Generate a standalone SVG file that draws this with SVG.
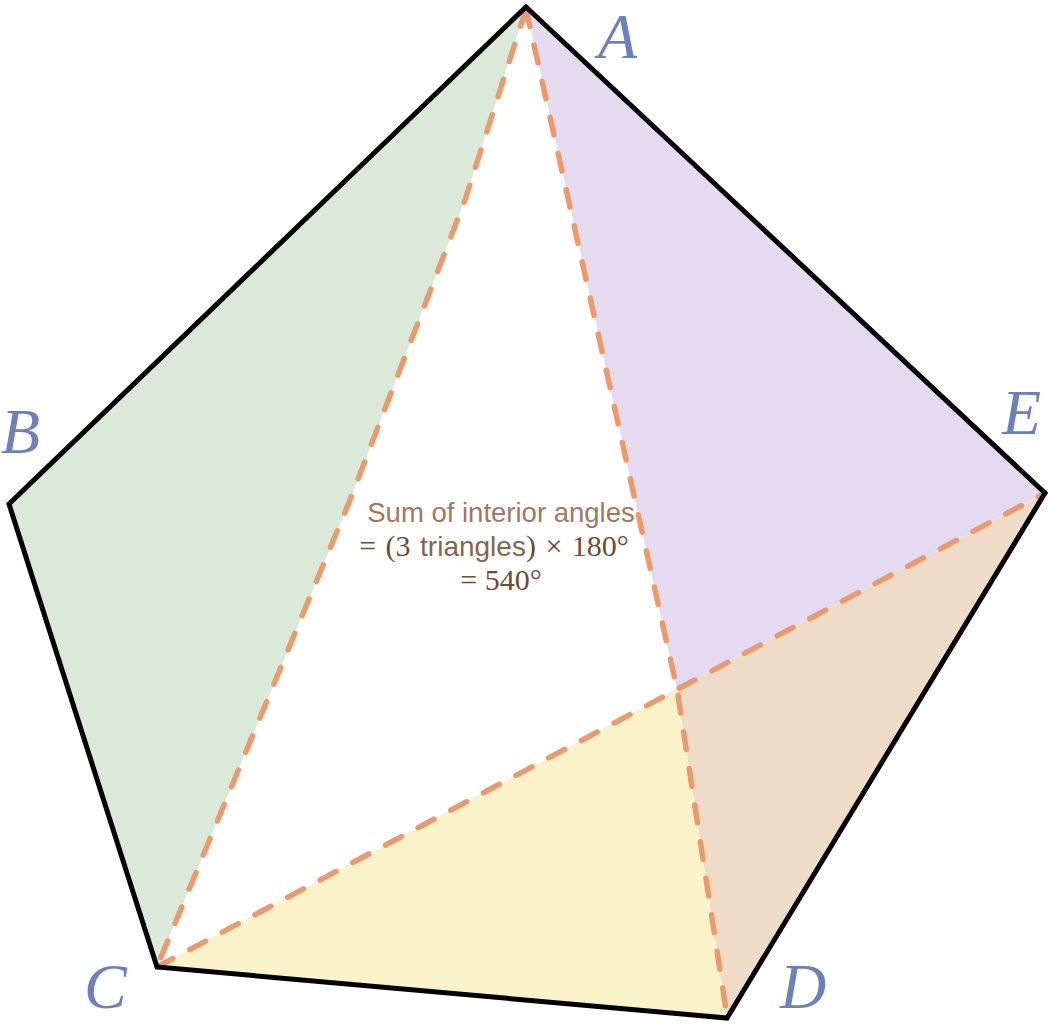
<svg xmlns="http://www.w3.org/2000/svg" width="1048" height="1024" viewBox="0 0 1048 1024">
<style>
.edge{fill:none;stroke:#000;stroke-width:5;stroke-linejoin:miter;}
.diag{fill:none;stroke:#ec9a6c;stroke-width:5.5;stroke-dasharray:18 19;stroke-linecap:round;stroke-linejoin:round;}
.lbl{font-family:"Liberation Serif","DejaVu Serif",serif;font-style:italic;font-size:64px;fill:#6d80be;}
.sans{font-family:"Liberation Sans","Arial",sans-serif;}
.math{font-family:"Liberation Serif","DejaVu Serif",serif;}
</style>
<rect width="1048" height="1024" fill="#ffffff"/>
<g id="regions">
<polygon id="green" points="526,7 9,504 157,967 350,500 465,200" fill="#dbead8"/>
<polygon id="purple" points="526,7 1045,493 677,689" fill="#e4dbf1"/>
<polygon id="tan" points="1045,493 727,1018 677,689" fill="#eedcc8"/>
<polygon id="yellow" points="157,967 677,689 727,1018" fill="#faf2c8"/>
</g>
<g id="connectors">
<polyline class="diag" points="526,9 465,200 350,500 157,967"/>
<polyline class="diag" points="526,9 677,689 727,1016"/>
<line class="diag" x1="157" y1="967" x2="1045" y2="493"/>
</g>
<g id="pentagon">
<polygon class="edge" points="526,7 1045,493 727,1018 157,967 9,504"/>
</g>
<g id="label-A"><text class="lbl" x="598" y="58">A</text></g>
<g id="label-B"><text class="lbl" x="1" y="453">B</text></g>
<g id="label-C"><text class="lbl" x="84" y="1008">C</text></g>
<g id="label-D"><text class="lbl" x="780" y="1008">D</text></g>
<g id="label-E"><text class="lbl" x="1002" y="434">E</text></g>
<g id="caption" text-anchor="middle">
<text class="sans" x="501" y="522" font-size="27.5" fill="#a27760">Sum of interior angles</text>
<text x="494" y="556" font-size="30" fill="#6e4b33" word-spacing="2"><tspan class="math">= (3 </tspan><tspan class="sans" font-size="28" fill="#8a634c">triangles</tspan><tspan class="math">) × 180°</tspan></text>
<text class="math" x="501" y="590" font-size="30" fill="#6e4b33">= 540°</text>
</g>
</svg>
